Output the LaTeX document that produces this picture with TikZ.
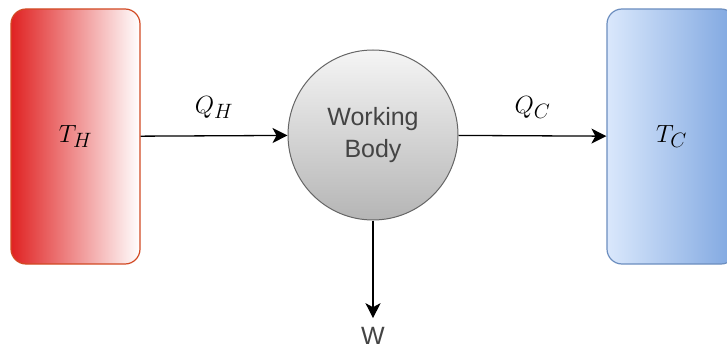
\documentclass[tikz,border=0pt]{standalone}
\usepackage{fontspec}
\setsansfont{Liberation Sans}
\usetikzlibrary{arrows.meta}

\definecolor{hotred}{HTML}{E02222}
\definecolor{hotline}{HTML}{D24A24}
\definecolor{coldlight}{HTML}{DAE8FC}
\definecolor{colddark}{HTML}{7EA6E0}
\definecolor{coldline}{HTML}{6C8EBF}
\definecolor{bodyline}{HTML}{666666}
\definecolor{labelgray}{HTML}{444444}

\tikzset{reservoir/.style={
    draw, rounded corners=15pt, line width=1.2pt,
    minimum width=129pt, minimum height=255pt,
    font=\fontsize{31}{36}\selectfont},
  flow/.style={-{Stealth[length=15pt,width=15pt,inset=4pt]}, line width=1.3pt},
  heat/.style={midway, above=13pt, font=\fontsize{31}{36}\selectfont}
}

\begin{document}
\begin{tikzpicture}[x=1pt, y=1pt]
        \useasboundingbox (0,0) rectangle (727,351);
        \clip (0,0) rectangle (727,351);

        %reservoirs and working body
        \node[reservoir, draw=hotline, left color=hotred, right color=white](hot) at (75.5,214.5){$T_H$};
        \node[reservoir, draw=coldline, left color=coldlight, right color=colddark](cold) at (671.5,214.5){$T_C$};
        \node[circle, draw=bodyline, line width=1pt, minimum size=170pt, top color=gray!8, bottom color=gray!58,
              align=center, text=labelgray, font=\sffamily\fontsize{25}{32}\selectfont](body) at (373,216){Working\\Body};
        \node[text=labelgray, inner sep=0pt, font=\sffamily\fontsize{25}{28}\selectfont](work) at (373,15){W};

        %heat flows
        \draw[flow] (hot) -- (body) node[heat]{$Q_H$};
        \draw[flow] (body) -- (cold) node[heat]{$Q_C$};

        %work out
        \draw[flow, shorten >=9pt] (body) -- (work);
\end{tikzpicture}
\end{document}
